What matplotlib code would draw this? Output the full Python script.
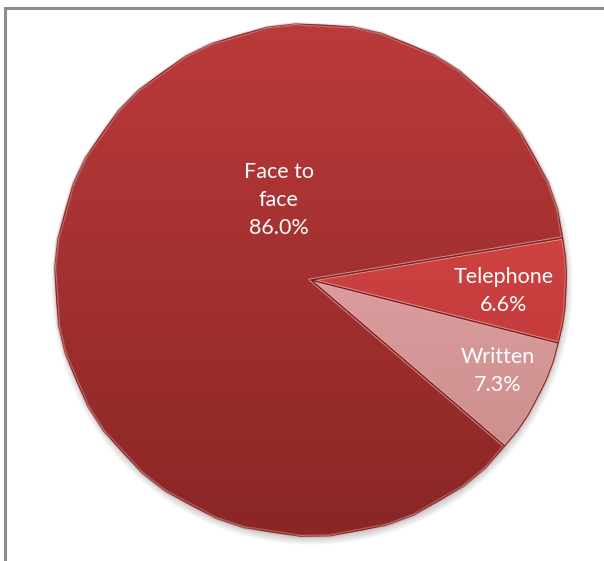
import numpy as np
import matplotlib
matplotlib.use("Agg")
import matplotlib.pyplot as plt
from matplotlib.colors import LinearSegmentedColormap
from matplotlib.patches import Rectangle, Circle

# contact channel shares (%)
categories = ["Face to\nface", "Telephone", "Written"]
shares = [86.0, 6.6, 7.3]

# slice fill: (top colour, bottom colour)
fills = [("#bb3a3a", "#8a2626"), ("#dc4a4a", "#b83434"), ("#eab0b0", "#c98888")]
# label placement: (angle in degrees, fraction of radius)
label_pos = [(112, 0.34), (-3.3, 0.755), (-26, 0.815)]

plt.rcParams['font.family'] = ['Lato', 'DejaVu Sans']

fig = plt.figure(figsize=(6.04, 5.61), dpi=100)
ax = fig.add_axes([0, 0, 1, 1])
ax.set_xlim(0, 604)
ax.set_ylim(0, 561)
ax.axis("off")

cx, cy, r = 311, 281, 255

# soft shadow under the pie
for k in range(8):
    ax.add_patch(Circle((cx + 1, cy - 4), r + 6 - k, color="#000000",
                        alpha=0.025, lw=0, zorder=1))

wedges, _ = ax.pie(shares, center=(cx, cy), radius=r, startangle=319.4,
                   counterclock=False, frame=True,
                   wedgeprops=dict(linewidth=1.0, edgecolor="#6e2020", zorder=2))

grad = np.linspace(0, 1, 256).reshape(-1, 1)
for w, (top, bot) in zip(wedges, fills):
    w.set_facecolor(top)
    cmap = LinearSegmentedColormap.from_list("g", [top, bot])
    im = ax.imshow(grad, extent=[cx - r, cx + r, cy - r, cy + r], cmap=cmap,
                   aspect="auto", interpolation="bicubic", zorder=2.5)
    im.set_clip_path(w)
    # light rim along the slice border, dark outline outside it
    ax.add_patch(plt.Polygon(w.get_path().vertices, closed=True, fill=False,
                             transform=w.get_transform(),
                             edgecolor="#f4a0a0", lw=2.5, alpha=0.45, zorder=3))
    ax.add_patch(plt.Polygon(w.get_path().vertices, closed=True, fill=False,
                             transform=w.get_transform(),
                             edgecolor="#5a1818", lw=0.8, alpha=0.7, zorder=3.1))

for name, val, (ang, dist) in zip(categories, shares, label_pos):
    a = np.deg2rad(ang)
    ax.text(cx + dist * r * np.cos(a), cy + dist * r * np.sin(a),
            f"{name}\n{val:.1f}%", color="white", fontsize=15.5,
            ha="center", va="center", linespacing=1.5, zorder=5)

ax.set_xlim(0, 604)
ax.set_ylim(0, 561)
ax.set_aspect("auto")

# chart frame
ax.add_patch(Rectangle((5, -20), 640, 553 + 20, fill=False,
                       edgecolor="#8c8c8c", lw=2.2, zorder=6, clip_on=False))

fig.savefig("out.png", dpi=100)
